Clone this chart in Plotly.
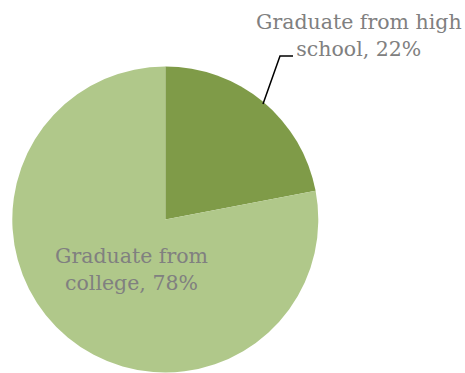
import plotly.graph_objects as go

# Education breakdown
categories = ["Graduate from high school", "Graduate from college"]
shares = [22, 78]
label_lines = [["Graduate from high", "school, 22%"], ["Graduate from", "college, 78%"]]
colors = ["#7F9B48", "#B0C88A"]

W, H = 465, 373
cx, cy, r = 165.3, 219.5, 153.0  # pie centre / radius in pixels

fig = go.Figure(go.Pie(
    labels=categories,
    values=shares,
    sort=False,
    direction="clockwise",
    rotation=0,
    textinfo="none",
    hoverinfo="label+percent",
    marker=dict(colors=colors, line=dict(width=0)),
    domain=dict(x=[(cx - r) / W, (cx + r) / W],
                y=[(H - cy - r) / H, (H - cy + r) / H]),
    showlegend=False,
))

font = dict(family="DejaVu Serif", size=20.5, color="#808080")

# Outside label for the small slice, with a leader line
fig.add_annotation(x=359 / W, y=1 - 36 / H, xref="paper", yref="paper",
                   text="<br>".join(label_lines[0]), showarrow=False,
                   font=font, align="center", xanchor="center", yanchor="middle")
fig.add_shape(type="path", xref="paper", yref="paper",
              path=f"M {293 / W} {1 - 56 / H} L {280 / W} {1 - 56 / H} L {263 / W} {1 - 104 / H}",
              line=dict(color="black", width=1.5))

# Inside label for the large slice
fig.add_annotation(x=131 / W, y=1 - 269 / H, xref="paper", yref="paper",
                   text="<br>".join(label_lines[1]), showarrow=False,
                   font=font, align="center", xanchor="center", yanchor="middle")

fig.update_layout(width=W, height=H, margin=dict(l=0, r=0, t=0, b=0),
                  paper_bgcolor="white", plot_bgcolor="white")

fig.write_html("out.html")
